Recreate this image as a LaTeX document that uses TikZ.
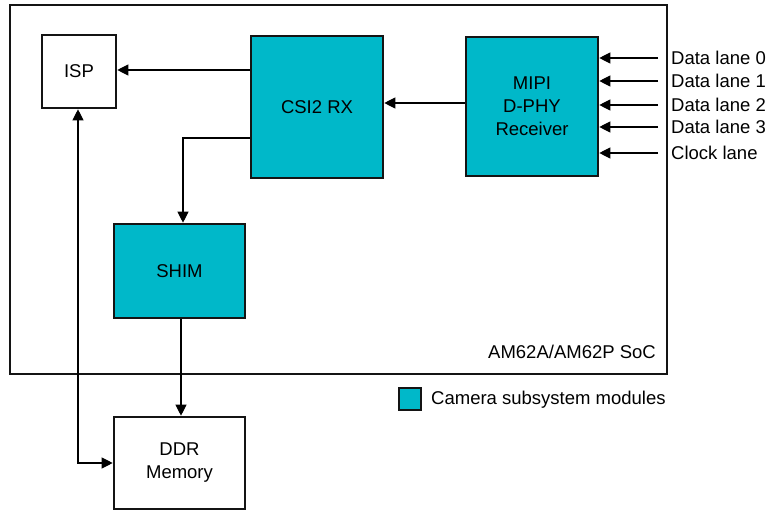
\documentclass[tikz,border=0pt]{standalone}
\usepackage{fontspec}
\setmainfont{Liberation Sans}
\usetikzlibrary{arrows.meta}
\definecolor{camteal}{RGB}{0,184,201}
\definecolor{boxline}{RGB}{20,20,20}
\begin{document}
\begin{tikzpicture}[x=1pt,y=-1pt,
  font=\fontsize{18.5}{23}\selectfont,
  blk/.style={draw=boxline,line width=2.6pt,rectangle,inner sep=0pt,align=center},
  cam/.style={blk,fill=camteal},
  plain/.style={blk,fill=white},
  arr/.style={draw=black,line width=1.1pt,-{Triangle[length=11pt,width=11pt]}},
  dblarr/.style={draw=black,line width=1.1pt,{Triangle[length=11pt,width=11pt]}-{Triangle[length=11pt,width=11pt]}},
  lane/.style={anchor=west,inner xsep=13pt,inner ysep=0pt}
]
\useasboundingbox (0,0) rectangle (769,510);
% SoC frame
\draw[draw=boxline,line width=2pt] (10,5) rectangle (667,374);
\node[anchor=east,inner sep=0pt] (soc) at (656,352) {AM62A/AM62P SoC};

% blocks
\node[plain,minimum width=74pt,minimum height=73pt] (isp) at (79,71.5) {ISP};
\node[cam,minimum width=132pt,minimum height=142pt] (csi) at (317,107) {CSI2 RX};
\node[cam,minimum width=132pt,minimum height=139pt] (mipi) at (532,106.5) {MIPI\\D-PHY\\Receiver};
\node[cam,minimum width=131pt,minimum height=94pt] (shim) at (179.5,271) {SHIM};
\node[plain,minimum width=131pt,minimum height=92pt] (ddr) at (179.5,463) {DDR\\Memory};

% lane labels
\node[lane] (l0) at (658,58) {Data lane 0};
\node[lane] (l1) at (658,81) {Data lane 1};
\node[lane] (l2) at (658,105) {Data lane 2};
\node[lane] (l3) at (658,127) {Data lane 3};
\node[lane] (lc) at (658,153) {Clock lane};
\foreach \n in {l0,l1,l2,l3,lc}
  \draw[arr] (\n.west) -- (mipi.east |- \n.west);

% connectors
\draw[arr] ([yshift=1.5pt]csi.west |- isp.east) -- ([yshift=1.5pt]isp.east);
\draw[arr] ([yshift=3.5pt]mipi.west) -- ([yshift=3.5pt]csi.east |- mipi.west);
\draw[arr] ([yshift=-31pt]csi.west) -| ([xshift=3.5pt]shim.north);
\draw[arr] ([xshift=1.5pt]shim.south) -- ([xshift=1.5pt]ddr.north);
\draw[dblarr] ([xshift=-1pt]isp.south) |- (ddr.west);

% legend
\node[cam,line width=2pt,minimum width=22pt,minimum height=22pt] (leg) at (409.5,399.5) {};
\node[anchor=west,inner sep=0pt] (legtxt) at (431,400) {Camera subsystem modules};
\end{tikzpicture}
\end{document}
